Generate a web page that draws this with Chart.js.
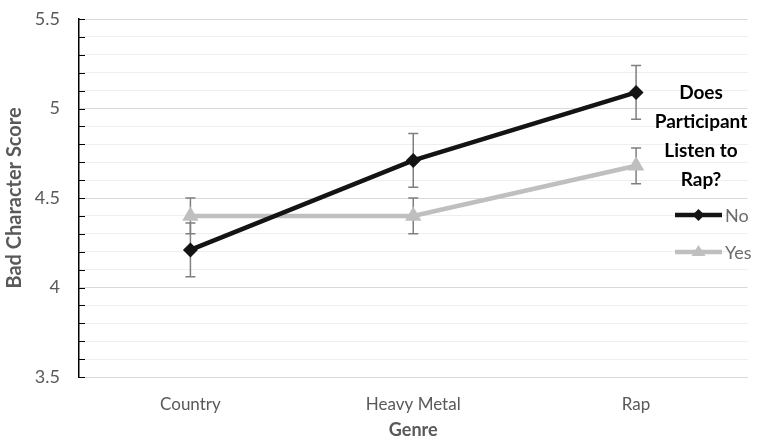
<!DOCTYPE html>
<html>
<head>
<meta charset="utf-8">
<script src="https://cdn.jsdelivr.net/npm/chart.js@4/dist/chart.umd.min.js"></script>
<style>
  html,body{margin:0;padding:0;background:#fff;}
  #wrap{width:757px;height:444px;position:relative;}
</style>
</head>
<body>
<div id="wrap"><canvas id="chart" width="757" height="444"></canvas></div>
<script>
const genres = ['Country', 'Heavy Metal', 'Rap'];
const seriesNames = ['No', 'Yes'];
const noScores = [4.21, 4.71, 5.09];
const noErrors = [0.15, 0.15, 0.15];
const yesScores = [4.40, 4.40, 4.68];
const yesErrors = [0.10, 0.10, 0.10];
const legendTitle = ['Does', 'Participant', 'Listen to', 'Rap?'];
const yMin = 3.5, yMax = 5.5, yStep = 0.1;

const FONT = 'Lato, "Open Sans", sans-serif';
const GREY_TEXT = '#595959';

// error bars, drawn under the lines and markers
const errorBars = {
  id: 'errorBars',
  beforeDatasetsDraw(chart){
    const {ctx, scales:{x, y}} = chart;
    const errs = [noErrors, yesErrors];
    ctx.save();
    ctx.strokeStyle = '#7f7f7f';
    ctx.lineWidth = 1.5;
    chart.data.datasets.forEach((ds, i) => {
      ds.data.forEach((v, j) => {
        const px = x.getPixelForValue(j);
        const top = y.getPixelForValue(v + errs[i][j]);
        const bot = y.getPixelForValue(v - errs[i][j]);
        ctx.beginPath();
        ctx.moveTo(px, top); ctx.lineTo(px, bot);
        ctx.moveTo(px - 5, top); ctx.lineTo(px + 5, top);
        ctx.moveTo(px - 5, bot); ctx.lineTo(px + 5, bot);
        ctx.stroke();
      });
    });
    ctx.restore();
  }
};

// small tick marks inside the plot on the y axis
const innerTicks = {
  id: 'innerTicks',
  afterDatasetsDraw(chart){
    const {ctx, chartArea, scales:{y}} = chart;
    ctx.save();
    ctx.strokeStyle = '#000';
    ctx.lineWidth = 1;
    y.ticks.forEach(t => {
      const py = Math.round(y.getPixelForValue(t.value)) + 0.5;
      ctx.beginPath();
      ctx.moveTo(chartArea.left, py); ctx.lineTo(chartArea.left + 6, py);
      ctx.stroke();
    });
    ctx.restore();
  }
};

// legend sitting inside the plot on the right
const sideLegend = {
  id: 'sideLegend',
  afterDraw(chart){
    const {ctx} = chart;
    const cx = 701;
    ctx.save();
    ctx.fillStyle = '#000';
    ctx.font = 'bold 19px ' + FONT;
    ctx.textAlign = 'center';
    ctx.textBaseline = 'alphabetic';
    legendTitle.forEach((s, i) => ctx.fillText(s, cx, 99 + i * 29));
    const rows = [215, 252];
    chart.data.datasets.forEach((ds, i) => {
      const yy = rows[i];
      ctx.strokeStyle = ds.borderColor;
      ctx.lineWidth = ds.borderWidth;
      ctx.beginPath(); ctx.moveTo(675, yy); ctx.lineTo(722, yy); ctx.stroke();
      ctx.fillStyle = ds.pointBackgroundColor;
      const m = 698.5;
      ctx.beginPath();
      if (ds.pointStyle === 'rectRot'){
        ctx.moveTo(m, yy - 6); ctx.lineTo(m + 6, yy); ctx.lineTo(m, yy + 6); ctx.lineTo(m - 6, yy);
      } else {
        ctx.moveTo(m, yy - 7); ctx.lineTo(m + 7, yy + 4); ctx.lineTo(m - 7, yy + 4);
      }
      ctx.closePath(); ctx.fill();
      ctx.fillStyle = '#6b6b6b';
      ctx.font = '18px ' + FONT;
      ctx.textAlign = 'left';
      ctx.textBaseline = 'middle';
      ctx.fillText(ds.label, 725, yy + 1);
    });
    ctx.restore();
  }
};

new Chart(document.getElementById('chart'), {
  type: 'line',
  data: {
    labels: genres,
    datasets: [
      {label: seriesNames[0], data: noScores, borderColor: '#141414', backgroundColor: '#141414',
       pointBackgroundColor: '#141414', pointBorderColor: '#141414', borderWidth: 4.5,
       pointStyle: 'rectRot', pointRadius: 7.5, pointBorderWidth: 0, tension: 0},
      {label: seriesNames[1], data: yesScores, borderColor: '#bfbfbf', backgroundColor: '#bfbfbf',
       pointBackgroundColor: '#bfbfbf', pointBorderColor: '#bfbfbf', borderWidth: 4.5,
       pointStyle: 'triangle', pointRadius: 9.5, pointBorderWidth: 0, tension: 0}
    ]
  },
  options: {
    responsive: false,
    animation: false,
    events: [],
    layout: {padding: {top: 19, right: 6, left: 0, bottom: 0}},
    plugins: {legend: {display: false}, tooltip: {enabled: false}},
    scales: {
      x: {
        offset: true,
        grid: {display: false, drawTicks: false},
        border: {color: '#d9d9d9', width: 1},
        ticks: {color: GREY_TEXT, font: {family: FONT, size: 17}, padding: 17},
        title: {display: true, text: 'Genre', color: GREY_TEXT, font: {family: FONT, size: 18, weight: 'bold'}, padding: {top: 0, bottom: 3}},
        afterFit(s){ s.height = 67; }
      },
      y: {
        min: yMin, max: yMax,
        grid: {
          drawTicks: false,
          color: c => (Math.round(c.tick.value * 10) % 5 === 0) ? '#d9d9d9' : '#efefef',
          lineWidth: 1
        },
        border: {color: '#000', width: 1.5},
        ticks: {
          stepSize: yStep,
          color: GREY_TEXT,
          font: {family: FONT, size: 18},
          padding: 19,
          autoSkip: false,
          callback: v => (Math.round(v * 10) % 5 === 0) ? String(Number(v.toFixed(1))) : ''
        },
        title: {display: true, text: 'Bad Character Score', color: GREY_TEXT, font: {family: FONT, size: 20, weight: 'bold'}, padding: {top: 3, bottom: 0}},
        afterFit(s){ s.width = 79; s.paddingTop = 0; s.paddingBottom = 0; }
      }
    }
  },
  plugins: [errorBars, innerTicks, sideLegend]
});
</script>
</body>
</html>
